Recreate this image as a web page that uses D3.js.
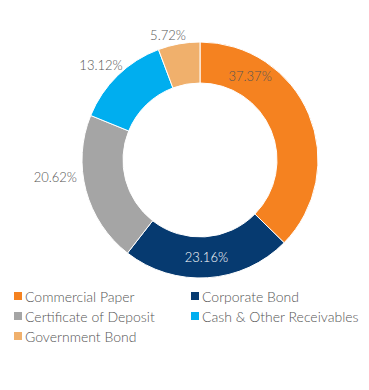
<!DOCTYPE html>
<html>
<head>
<meta charset="utf-8">
<script src="https://cdn.jsdelivr.net/npm/d3@7"></script>
<style>
  body { margin: 0; background: #fff; }
  svg text { font-family: Lato, "Open Sans", sans-serif; font-weight: 300; fill: #555; }
</style>
</head>
<body>
<svg></svg>
<script>
var categories = ['Commercial Paper', 'Corporate Bond', 'Certificate of Deposit', 'Cash & Other Receivables', 'Government Bond'];
var values = [37.37, 23.16, 20.62, 13.12, 5.72];
var labels = ['37.37%', '23.16%', '20.62%', '13.12%', '5.72%'];
var colors = ['#F58220', '#063A70', '#A5A5A5', '#00AEEF', '#F0B06C'];

var width = 369,
    height = 390,
    cx = 200,
    cy = 160,
    outerR = 118,
    innerR = 77;

// where each label sits: inside labels at a fraction along the slice,
// outside labels nudged from the outer edge of the slice
var labelPlace = [
    { inside: true, at: 0.23, color: '#555' },
    { inside: true, at: 0.5, color: '#fff' },
    { inside: false, dx: -9, dy: -13 },
    { inside: false, dx: 5, dy: -10 },
    { inside: false, dx: 7, dy: -9 }
];

var svg = d3.select('svg')
    .attr('width', width)
    .attr('height', height);

var pie = d3.pie().sort(null).value(function (d) { return d; });
var arcs = pie(values);

var arc = d3.arc().innerRadius(innerR).outerRadius(outerR);

var chart = svg.append('g')
    .attr('transform', 'translate(' + cx + ',' + cy + ')');

chart.selectAll('.slice')
    .data(arcs)
    .enter().append('path')
    .attr('class', 'slice')
    .attr('d', arc)
    .attr('fill', function (d, i) { return colors[i]; })
    .attr('stroke', '#fff')
    .attr('stroke-width', 1);

var midR = (innerR + outerR) / 2;

chart.selectAll('.pct')
    .data(arcs)
    .enter().append('text')
    .attr('class', 'pct')
    .attr('font-size', 13)
    .attr('dominant-baseline', 'central')
    .attr('text-anchor', function (d, i) { return labelPlace[i].inside ? 'middle' : 'end'; })
    .style('fill', function (d, i) { return labelPlace[i].color || '#555'; })
    .attr('transform', function (d, i) {
        var p = labelPlace[i], a, r, x, y;
        if (p.inside) {
            a = d.startAngle + (d.endAngle - d.startAngle) * p.at;
            r = midR;
            x = r * Math.sin(a);
            y = -r * Math.cos(a);
        } else {
            a = (d.startAngle + d.endAngle) / 2;
            x = outerR * Math.sin(a) + p.dx;
            y = -outerR * Math.cos(a) + p.dy;
        }
        return 'translate(' + x + ',' + y + ')';
    })
    .text(function (d, i) { return labels[i]; });

// legend, two columns
var legend = svg.append('g').attr('class', 'legend');
var colX = [14, 191],
    rowY = 296,
    rowH = 20;

var li = legend.selectAll('.li')
    .data(categories)
    .enter().append('g')
    .attr('class', 'li')
    .attr('transform', function (d, i) {
        return 'translate(' + colX[i % 2] + ',' + (rowY + Math.floor(i / 2) * rowH) + ')';
    });

li.append('rect')
    .attr('x', 0)
    .attr('y', -4)
    .attr('width', 8)
    .attr('height', 8)
    .attr('fill', function (d, i) { return colors[i]; });

li.append('text')
    .attr('x', 11)
    .attr('font-size', 14)
    .attr('dominant-baseline', 'central')
    .text(function (d) { return d; });
</script>
</body>
</html>
